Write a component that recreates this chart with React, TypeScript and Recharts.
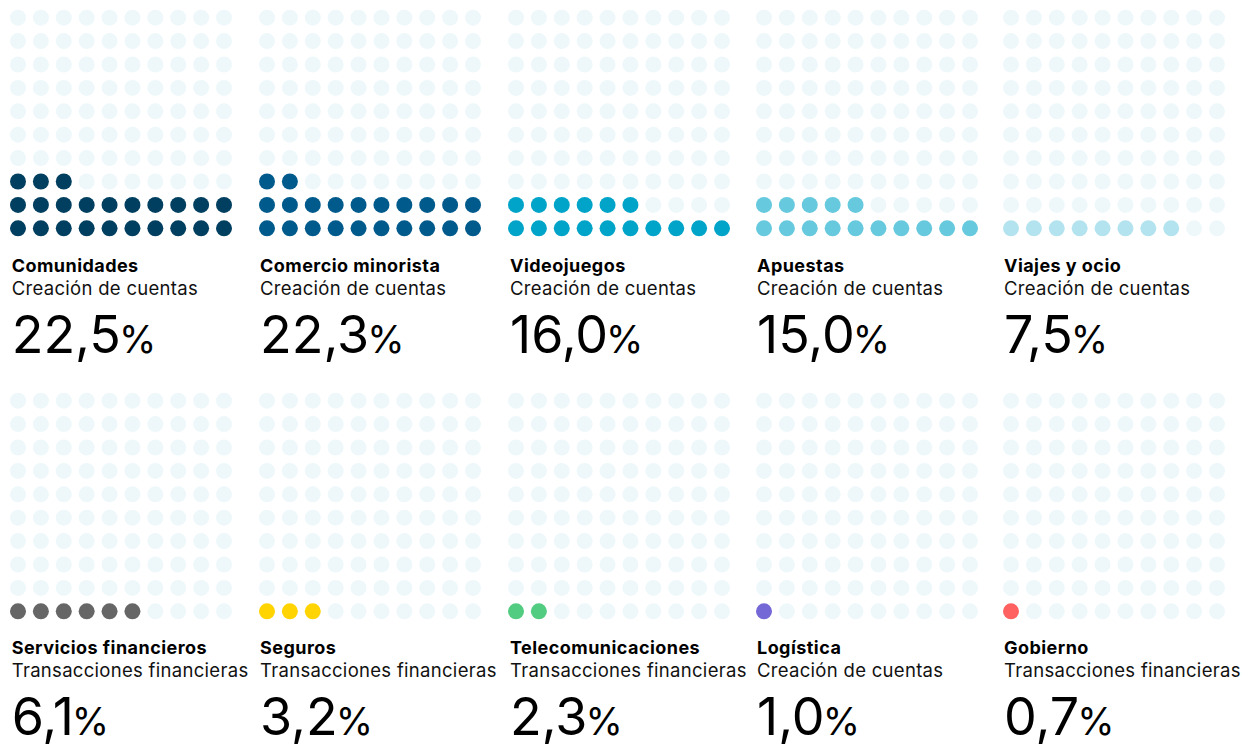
import React from 'react';
import { ScatterChart, Scatter, XAxis, YAxis } from 'recharts';

const categories = ['Comunidades', 'Comercio minorista', 'Videojuegos', 'Apuestas', 'Viajes y ocio', 'Servicios financieros', 'Seguros', 'Telecomunicaciones', 'Logística', 'Gobierno'];
const metrics = ['Creación de cuentas', 'Creación de cuentas', 'Creación de cuentas', 'Creación de cuentas', 'Creación de cuentas', 'Transacciones financieras', 'Transacciones financieras', 'Transacciones financieras', 'Creación de cuentas', 'Transacciones financieras'];
const percentages = [22.5, 22.3, 16.0, 15.0, 7.5, 6.1, 3.2, 2.3, 1.0, 0.7];
const colors = ['#003f5f', '#005b8c', '#00a4c9', '#66c9dd', '#b3e3ef', '#666666', '#ffd400', '#52cc80', '#7468d7', '#ff6161'];
const emptyColor = '#eef8fb';
const GRID = 10;

const DOT_LEFT = [18.3, 266.5, 516.3, 764, 1011];
const TEXT_LEFT = [11.7, 260, 510, 757, 1004];
const ROW_DY = 383;
const FONT = 'Inter, "Noto Sans", sans-serif';

function buildCells(pct: number) {
  const n = Math.round(pct);
  const filled: { x: number; y: number }[] = [];
  const empty: { x: number; y: number }[] = [];
  for (let i = 0; i < GRID * GRID; i++) {
    const pt = { x: i % GRID, y: Math.floor(i / GRID) };
    if (i < n) filled.push(pt);
    else empty.push(pt);
  }
  return { filled, empty };
}

const dot = (color: string) => (props: any) => (
  <circle cx={props.cx} cy={props.cy} r={8} fill={color} />
);

function Panel({ idx }: { idx: number }) {
  const { filled, empty } = buildCells(percentages[idx]);
  const col = idx % 5;
  const row = Math.floor(idx / 5);
  return (
    <div style={{ position: 'absolute', left: DOT_LEFT[col] - 10, top: row * ROW_DY }}>
      <ScatterChart width={226} height={246} margin={{ top: 17.7, right: 10, bottom: 17.7, left: 10 }}>
        <XAxis type="number" dataKey="x" domain={[0, 9]} hide />
        <YAxis type="number" dataKey="y" domain={[0, 9]} hide />
        <Scatter data={empty} shape={dot(emptyColor)} isAnimationActive={false} />
        <Scatter data={filled} shape={dot(colors[idx])} isAnimationActive={false} />
      </ScatterChart>
    </div>
  );
}

function fmt(v: number) {
  return v.toFixed(1).replace('.', ',');
}

export default function App() {
  return (
    <div style={{ position: 'absolute', left: 0, top: 0, width: 1253, height: 744, background: '#ffffff', overflow: 'hidden' }}>
      {categories.map((_, i) => (
        <Panel key={i} idx={i} />
      ))}
      <svg width={1253} height={744} style={{ position: 'absolute', left: 0, top: 0, pointerEvents: 'none' }}>
        {categories.map((c, i) => {
          const x = TEXT_LEFT[i % 5];
          const y0 = Math.floor(i / 5) * 381.5;
          return (
            <g key={c} fontFamily={FONT} fill="#000000">
              <text x={x} y={y0 + 272} fontSize={18} fontWeight={700} letterSpacing={0.45}>{c}</text>
              <text x={x} y={y0 + 295} fontSize={18.5} fontWeight={400} fill="#111111" letterSpacing={0.3}>{metrics[i]}</text>
              <text x={x} y={y0 + 353} fontSize={52} fontWeight={400}>
                {fmt(percentages[i])}
                <tspan fontSize={38} dx={-2}>%</tspan>
              </text>
            </g>
          );
        })}
      </svg>
    </div>
  );
}
